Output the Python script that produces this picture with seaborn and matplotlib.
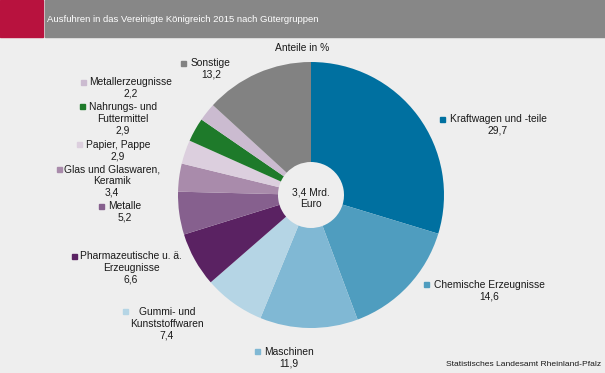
import matplotlib
matplotlib.use('Agg')
import matplotlib.pyplot as plt
import seaborn as sns

# Daten: Anteile in %
gruppen = ['Kraftwagen und -teile', 'Chemische Erzeugnisse', 'Maschinen',
           'Gummi- und\nKunststoffwaren', 'Pharmazeutische u. ä.\nErzeugnisse',
           'Metalle', 'Glas und Glaswaren,\nKeramik', 'Papier, Pappe',
           'Nahrungs- und\nFuttermittel', 'Metallerzeugnisse', 'Sonstige']
anteile = [29.7, 14.6, 11.9, 7.4, 6.6, 5.2, 3.4, 2.9, 2.9, 2.2, 13.2]
farben = ['#0070a0', '#4f9dbf', '#80b8d4', '#b5d5e5', '#5a2262', '#86608e',
          '#a98bab', '#dccfde', '#1e7a2a', '#cbbbd0', '#828282']

# Label-Positionen (Pixel: Mitte x, Mitte der ersten Zeile y) und Marker-Position
label_pos = [(498, 119), (489, 285), (289, 352), (167, 312), (131, 256),
             (125, 206), (112, 169), (118, 145), (123, 107), (131, 82), (211, 63)]
marker_pos = [(442, 119), (426.5, 284), (257, 351), (125.5, 311), (74.5, 256),
              (101, 206), (59, 169), (79, 145), (82.5, 106), (83, 82), (183.5, 63)]

sns.set_theme(style='white')
plt.rcParams['font.family'] = ['Liberation Sans', 'DejaVu Sans']

W, H = 605, 373
fig = plt.figure(figsize=(W / 100, H / 100), dpi=100)
fig.patch.set_facecolor('#eeeeee')


def px(x, y):
    return x / W, 1 - y / H


# Kopfzeile
fig.patches.append(plt.Rectangle((0, 1 - 37 / H), 43 / W, 37 / H, transform=fig.transFigure,
                                 color='#b8123e', zorder=0))
fig.patches.append(plt.Rectangle((45 / W, 1 - 37 / H), 1 - 45 / W, 37 / H, transform=fig.transFigure,
                                 color='#878787', zorder=0))
fig.text(*px(47, 20), 'Ausfuhren in das Vereinigte Königreich 2015 nach Gütergruppen',
         color='white', fontsize=6.8, va='center', ha='left')

# Kreisdiagramm (Ring)
ax = fig.add_axes([178 / W, 1 - 328 / H, 266 / W, 266 / H])
ax.pie(anteile, colors=farben, startangle=90, counterclock=False, radius=1,
       wedgeprops=dict(width=1 - 33 / 133, linewidth=0))
ax.set_xlim(-1, 1)
ax.set_ylim(-1, 1)
ax.set_aspect('equal')
ax.axis('off')
fig.text(*px(311, 198), '3,4 Mrd.\nEuro', ha='center', va='center', fontsize=7.4,
         color='#1a1a1a', linespacing=1.2)

fig.text(*px(302, 48), 'Anteile in %', ha='center', va='center', fontsize=7.4, color='#1a1a1a')

# Beschriftungen
zeile = 11.7
for name, wert, (lx, ly), (mx, my), c in zip(gruppen, anteile, label_pos, marker_pos, farben):
    txt = name + '\n' + f'{wert:.1f}'.replace('.', ',')
    n = txt.count('\n') + 1
    fig.text(*px(lx, ly + (n - 1) * zeile / 2), txt, ha='center', va='center', fontsize=7.4,
             color='#1a1a1a', linespacing=1.2)
    fig.patches.append(plt.Rectangle(px(mx - 2.5, my + 2.5), 5 / W, 5 / H,
                                     transform=fig.transFigure, color=c))

fig.text(*px(601, 365), 'Statistisches Landesamt Rheinland-Pfalz', ha='right', va='center',
         fontsize=6.1, color='#1a1a1a')

fig.savefig('out.png', dpi=100, facecolor=fig.get_facecolor())
